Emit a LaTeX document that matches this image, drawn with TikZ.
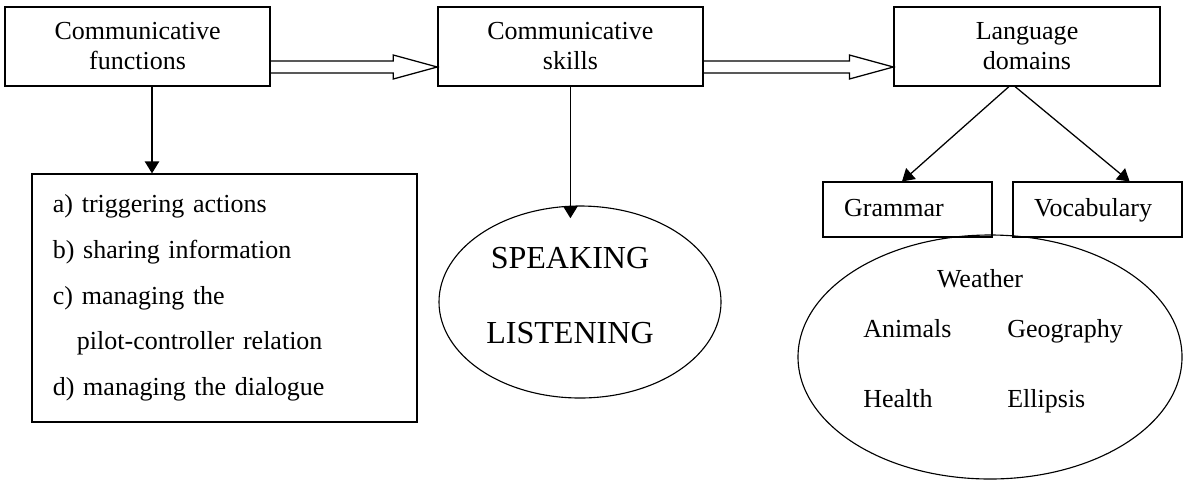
\documentclass[tikz,border=0pt]{standalone}
\usepackage{fontspec}
\setmainfont{Liberation Serif}
\usetikzlibrary{arrows.meta,calc,shapes.geometric}

% wide hollow arrow between two boxes, a little below their middle
\newcommand{\hollowarrow}[2]{%
  \draw[boxline] let \p1=($(#1.east)+(0,-0.515)$), \p2=(#2.west) in
    (\x1,\y1+0.15cm) -- (\x2-1.1cm,\y1+0.15cm) -- (\x2-1.1cm,\y1+0.3cm)
    -- (\x2,\y1) -- (\x2-1.1cm,\y1-0.3cm) -- (\x2-1.1cm,\y1-0.15cm)
    -- (\x1,\y1-0.15cm);}

\begin{document}
\begin{tikzpicture}[
  x=1cm,
  y=1cm,
  every node/.style={font=\fontsize{18.5}{21.3}\selectfont},
  boxline/.style={line width=0.9pt, line join=miter},
  topbox/.style={draw, boxline, rectangle, align=center, inner sep=0pt,
    minimum width=6.625cm, minimum height=1.975cm},
  smallbox/.style={draw, boxline, rectangle, align=left, inner ysep=0pt,
    inner xsep=0.525cm, text width=3.175cm, minimum height=1.375cm,
    text height=0.45cm, text depth=0.12cm},
  oval/.style={draw, ellipse, line width=0.8pt, inner sep=0pt},
  word/.style={inner sep=0pt, anchor=base west},
  conn/.style={line width=0.9pt, -{Triangle[length=0.3cm, width=0.36cm]}}
]
  \useasboundingbox (0,0) rectangle (29.6,-12.025);

  % ---- top row ----
  \node[topbox] (funcs) at (3.44,-1.16) {Communicative\\functions};
  \node[topbox] (skills) at (14.26,-1.16) {Communicative\\skills};
  \node[topbox, minimum width=6.65cm] (domains) at (25.675,-1.16) {Language\\domains};

  \hollowarrow{funcs}{skills}
  \hollowarrow{skills}{domains}

  % ---- functions list ----
  \node[draw, boxline, rectangle, align=left, text width=8.575cm,
        inner xsep=0.525cm, inner ysep=0pt, minimum height=6.2cm,
        font=\fontsize{18.5}{32.5}\selectfont] (list) at (5.61,-7.45)
    {a) triggering actions\\
     b) sharing information\\
     c) managing the\\
     \hspace*{0.6cm}pilot-controller relation\\
     d) managing the dialogue};

  \coordinate (fdrop) at ($(funcs.south)+(0.36,0)$);
  \draw[conn] (fdrop) -- (fdrop |- list.north);

  % ---- skills ----
  \node[oval, minimum width=7.05cm, minimum height=4.8cm] (skoval) at (14.5,-7.55) {};
  \node[anchor=base, inner sep=0pt, font=\fontsize{22.8}{27}\selectfont]
    (speak) at (14.25,-6.7) {SPEAKING};
  \node[anchor=base, inner sep=0pt, font=\fontsize{22.8}{27}\selectfont]
    (listen) at (14.25,-8.575) {LISTENING};

  \draw[conn, shorten >=-0.32cm] (skills.south) -- (skills.south |- skoval.north);

  % ---- domains ----
  \node[smallbox] (gram) at (22.69,-5.24) {Grammar};
  \node[smallbox] (vocab) at (27.44,-5.24) {Vocabulary};

  \coordinate (dsplit) at ($(domains.south)+(-0.45,0)$);
  \coordinate (vtip) at ($(vocab.north)+(0.8,0)$);
  \draw[conn] (dsplit) -- ($(gram.north)+(-0.14,0)$);
  \draw[conn] ($(dsplit)+(0.15,0)$) -- (vtip);

  \node[oval, minimum width=9.6cm, minimum height=6.1cm] (topics) at (24.75,-8.925) {};
  \node[inner sep=0pt, anchor=base] (weather) at (24.5,-7.175) {Weather};
  \node[word] (animals) at (21.575,-8.425) {Animals};
  \node[word] (geo) at (25.175,-8.425) {Geography};
  \node[word] (health) at (21.575,-10.175) {Health};
  \node[word] (ellip) at (25.175,-10.175) {Ellipsis};
\end{tikzpicture}
\end{document}
